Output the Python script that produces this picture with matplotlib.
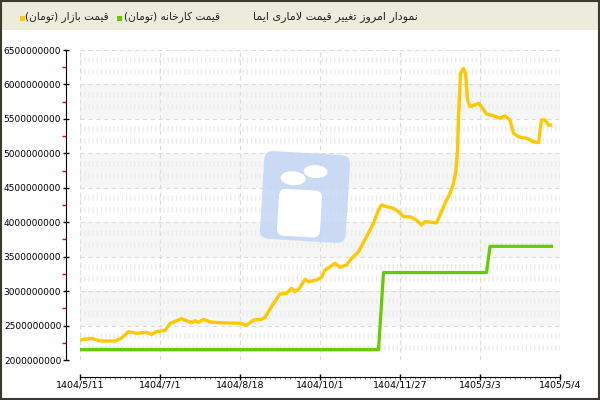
import matplotlib
matplotlib.use('Agg')
import matplotlib.pyplot as plt
import matplotlib.ticker as mticker
from matplotlib.patches import Rectangle, FancyBboxPatch, Ellipse
from matplotlib.transforms import Affine2D

# ── Data (prices in billions of toman) ────────────────────────────────────────
market_day = [0, 2.3, 4, 7, 8.2, 9.7, 11.3, 13.3, 14.3, 15.3, 17, 18, 20.3, 22.3, 23,
              23.7, 24.7, 26, 28, 32, 33.3, 34.7, 36.3, 37, 38.7, 40, 41.3, 42.3, 43,
              43.9, 45, 45.7, 47.3, 48.3, 49, 51, 52, 53.3, 54.3, 55.7, 57.3, 58.7,
              59.7, 60.3, 61.3, 62.7, 63.7, 64.7, 66, 67.3, 68.3, 69, 70.3, 71.3, 72,
              73, 74, 74.7, 75.2, 75.5, 75.7, 76.1, 76.7, 77.1, 77.5, 78, 79, 79.7,
              80.3, 81.3, 82.7, 84, 85, 86, 86.7, 87.7, 89.3, 90.7, 91.7, 92.3, 93,
              93.7, 94.1]
market_price = [2.290, 2.315, 2.276, 2.276, 2.312, 2.411, 2.388, 2.402, 2.373, 2.411,
                2.428, 2.53, 2.600, 2.541, 2.570, 2.547, 2.591, 2.552, 2.541, 2.533,
                2.504, 2.581, 2.591, 2.620, 2.823, 2.958, 2.968, 3.041, 2.991, 3.041,
                3.171, 3.137, 3.161, 3.200, 3.306, 3.404, 3.346, 3.379, 3.476, 3.572,
                3.790, 3.984, 4.177, 4.250, 4.225, 4.202, 4.153, 4.080, 4.080, 4.032,
                3.960, 4.008, 3.999, 3.989, 4.105, 4.275, 4.420, 4.565, 4.758, 5.048,
                5.532, 6.162, 6.234, 6.162, 5.774, 5.677, 5.702, 5.726, 5.677, 5.571,
                5.546, 5.509, 5.546, 5.484, 5.291, 5.241, 5.218, 5.169, 5.155, 5.484,
                5.484, 5.411, 5.411]

factory_day = [0, 59.7, 60.7, 81.3, 82, 94.3]
factory_price = [2.15, 2.15, 3.27, 3.27, 3.65, 3.65]

tick_days = [0, 16, 32, 48, 64, 80, 96]
tick_labels = ['1404/5/11', '1404/7/1', '1404/8/18', '1404/10/1',
               '1404/11/27', '1405/3/3', '1405/5/4']

title_text = 'نمودار امروز تغییر قیمت لاماری ایما'
factory_label = 'قیمت کارخانه (تومان)'
market_label = 'قیمت بازار (تومان)'

YELLOW = '#ffc800'
GREEN = '#66cc00'


# ── Minimal Persian shaping (matplotlib has no bidi / joining) ────────────────
FORMS = {
    'ا': ('\uFE8D', '\uFE8E', None, None),
    'ب': ('\uFE8F', '\uFE90', '\uFE91', '\uFE92'),
    'ت': ('\uFE95', '\uFE96', '\uFE97', '\uFE98'),
    'خ': ('\uFEA5', '\uFEA6', '\uFEA7', '\uFEA8'),
    'د': ('\uFEA9', '\uFEAA', None, None),
    'ر': ('\uFEAD', '\uFEAE', None, None),
    'ز': ('\uFEAF', '\uFEB0', None, None),
    'غ': ('\uFECD', '\uFECE', '\uFECF', '\uFED0'),
    'ق': ('\uFED5', '\uFED6', '\uFED7', '\uFED8'),
    'ل': ('\uFEDD', '\uFEDE', '\uFEDF', '\uFEE0'),
    'م': ('\uFEE1', '\uFEE2', '\uFEE3', '\uFEE4'),
    'ن': ('\uFEE5', '\uFEE6', '\uFEE7', '\uFEE8'),
    'ه': ('\uFEE9', '\uFEEA', '\uFEEB', '\uFEEC'),
    'و': ('\uFEED', '\uFEEE', None, None),
    '\u06CC': ('\uFBFC', '\uFBFD', '\uFBFE', '\uFBFF'),
    '\u06A9': ('\uFB8E', '\uFB8F', '\uFB90', '\uFB91'),
}


def shape(text):
    text = text.replace('\u064A', '\u06CC').replace('\u0643', '\u06A9')
    dual = lambda c: c in FORMS and FORMS[c][2] is not None
    out, i, n = [], 0, len(text)
    while i < n:
        c = text[i]
        prev = text[i - 1] if i > 0 else ''
        joins_prev = dual(prev) and c in FORMS
        if c == 'ل' and i + 1 < n and text[i + 1] == 'ا':
            out.append('\uFEFC' if joins_prev else '\uFEFB')
            i += 2
            continue
        if c not in FORMS:
            out.append({'(': ')', ')': '('}.get(c, c))
            i += 1
            continue
        nxt = text[i + 1] if i + 1 < n else ''
        joins_next = dual(c) and nxt in FORMS
        iso, fin, ini, med = FORMS[c]
        if joins_prev and joins_next:
            out.append(med)
        elif joins_prev:
            out.append(fin)
        elif joins_next:
            out.append(ini)
        else:
            out.append(iso)
        i += 1
    return ''.join(reversed(out))


# ── Figure ────────────────────────────────────────────────────────────────────
plt.rcParams.update({'font.family': 'DejaVu Sans', 'font.size': 6.6})
fig = plt.figure(figsize=(6, 4), dpi=100)
fig.patch.set_facecolor('white')

# pixel (y from top) -> figure coords
px = Affine2D().scale(1 / 600, -1 / 400).translate(0, 1) + fig.transFigure

fig.patches.append(Rectangle((0, 0), 600, 30, transform=px,
                             facecolor='#ececdc', edgecolor='none', zorder=0))
fig.patches.append(Rectangle((1, 1), 598, 398, transform=px, fill=False,
                             edgecolor='#3a3a30', linewidth=1.5, zorder=5))

fig.text(418, 17, shape(title_text), transform=px, ha='right', va='center',
         fontsize=8, color='#222222')
fig.text(220, 17, shape(factory_label), transform=px, ha='right', va='center',
         fontsize=7.6, color='#222222')
fig.text(109, 17, shape(market_label), transform=px, ha='right', va='center',
         fontsize=7.6, color='#222222')
fig.patches.append(Rectangle((117, 15.5), 5, 5, transform=px,
                             facecolor=GREEN, edgecolor='none'))
fig.patches.append(Rectangle((20, 15.5), 5, 5, transform=px,
                             facecolor=YELLOW, edgecolor='none'))

ax = fig.add_axes([80 / 600, 40 / 400, 480 / 600, 310 / 400])
ax.set_xlim(0, 96)
ax.set_ylim(2.0e9, 6.5e9)
ax.patch.set_alpha(0)

# alternating bands + faint hatched rows
for lo in [2.5e9, 3.5e9, 4.5e9, 5.5e9]:
    ax.axhspan(lo, lo + 5e8, color='#f6f6f6', zorder=0, linewidth=0)
rows = [2e9 + k * 5e8 + f * 5e8 for k in range(9) for f in (0.35, 0.7)]
ax.hlines(rows, 0, 96, colors='#ececec', linewidth=4,
          linestyles=[(0, (0.25, 0.5))], zorder=0.5)
for y in [2e9 + k * 5e8 for k in range(10)]:
    ax.axhline(y, color='#dcdcdc', linestyle=(0, (4, 3)), linewidth=0.8, zorder=1)
for x in tick_days:
    ax.axvline(x, color='#dcdcdc', linestyle=(0, (4, 3)), linewidth=0.8, zorder=1)

# watermark logo
cx, cy = 305, 197
rot = Affine2D().rotate_deg_around(cx, cy, 3.5) + px
fig.patches.append(FancyBboxPatch((cx - 43, cy - 44), 86, 88,
                                  boxstyle='round,pad=0,rounding_size=9',
                                  transform=rot, facecolor='#c3d6f5',
                                  edgecolor='none', alpha=0.85, zorder=1.5))
fig.patches.append(Ellipse((314, 171), 24, 13, transform=rot,
                           facecolor='white', edgecolor='none', zorder=1.6))
fig.patches.append(Ellipse((292, 179), 25, 14, transform=rot,
                           facecolor='white', edgecolor='none', zorder=1.6))
fig.patches.append(FancyBboxPatch((279, 190), 43, 47,
                                  boxstyle='round,pad=0,rounding_size=7',
                                  transform=rot, facecolor='white',
                                  edgecolor='none', zorder=1.6))

ax.plot(factory_day, [p * 1e9 for p in factory_price],
        color=GREEN, linewidth=2.3, solid_joinstyle='round', zorder=3)
ax.plot(market_day, [p * 1e9 for p in market_price],
        color=YELLOW, linewidth=2.4, solid_joinstyle='round', zorder=4)

# axes styling
for s in ['top', 'right']:
    ax.spines[s].set_visible(False)
ax.spines['left'].set_position(('outward', 10))
ax.spines['bottom'].set_position(('outward', 12))

ax.set_xticks(tick_days)
ax.set_xticklabels(tick_labels)
ax.xaxis.set_minor_locator(mticker.MultipleLocator(1))
ax.tick_params(axis='x', which='major', direction='inout', length=5, width=1,
               pad=0.5, labelsize=6.8)
ax.tick_params(axis='x', which='minor', direction='out', length=1.5, width=0.6,
               color='#666666')

ax.set_yticks([2e9 + k * 5e8 for k in range(10)])
ax.yaxis.set_major_formatter(mticker.FuncFormatter(lambda v, p: f'{int(round(v))}'))
ax.yaxis.set_minor_locator(mticker.FixedLocator([2.25e9 + k * 5e8 for k in range(9)]))
ax.tick_params(axis='y', which='major', direction='inout', length=5, width=1,
               pad=1, labelsize=6.5)
ax.tick_params(axis='y', which='minor', direction='out', length=3, width=1,
               color='red')

fig.savefig('out.png', dpi=100)
